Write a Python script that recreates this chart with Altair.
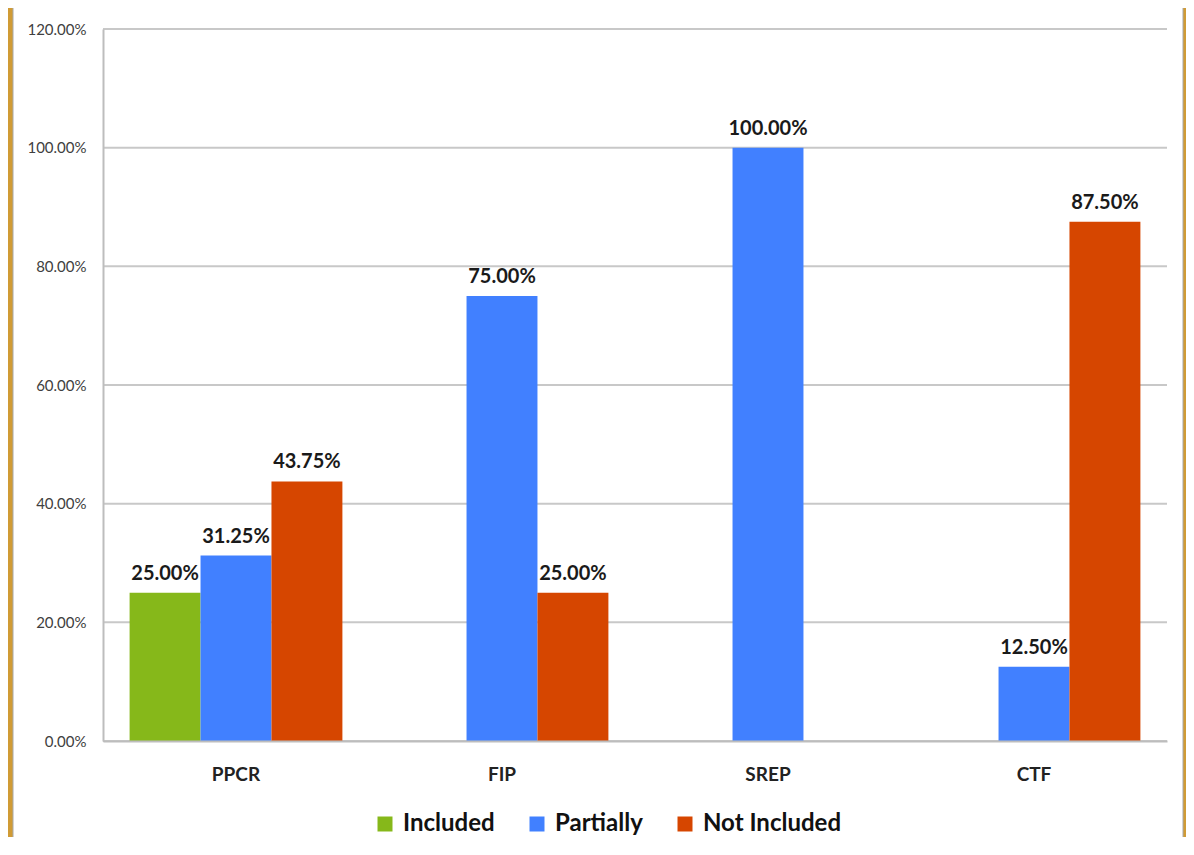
import altair as alt
import pandas as pd

programs = ["PPCR", "FIP", "SREP", "CTF"]
series = ["Included", "Partially", "Not Included"]
included = [25.00, 0.0, 0.0, 0.0]
partially = [31.25, 75.00, 100.00, 12.50]
not_included = [43.75, 25.00, 0.0, 87.50]
y_ticks = [0, 20, 40, 60, 80, 100, 120]
colors = ["#86B81A", "#4180FF", "#D64600"]

rows = []
for i, p in enumerate(programs):
    for s, vals in zip(series, [included, partially, not_included]):
        rows.append({"program": p, "series": s, "value": vals[i] / 100.0})
df = pd.DataFrame(rows)
grid_df = pd.DataFrame({"value": [v / 100.0 for v in y_ticks]})

FONT = "Lato"

bg = alt.Chart(pd.DataFrame({"a": [0]})).mark_rect(color="white", stroke="#A8A8A8", strokeWidth=1).encode(
    x=alt.value(-90), x2=alt.value(1080), y=alt.value(-40), y2=alt.value(900)
)

yscale = alt.Scale(domain=[0, 1.2], nice=False)

grid = alt.Chart(grid_df).mark_rule(color="#C8C8C8", strokeWidth=2).encode(
    y=alt.Y("value:Q", scale=yscale),
    x=alt.value(0), x2=alt.value(1064),
)

xenc = alt.X("program:N", sort=programs, title=None,
             scale=alt.Scale(paddingInner=0.2, paddingOuter=0.1),
             axis=alt.Axis(labelAngle=0, labelFont=FONT, labelFontSize=19, labelFontWeight="bold",
                           labelColor="#222222", labelPadding=24, ticks=False, zindex=1,
                           domainColor="#BDBDBD", domainWidth=2, grid=False))
yenc = alt.Y("value:Q", title=None, scale=yscale,
             axis=alt.Axis(values=[v / 100 for v in y_ticks], format=".2%", labelFont=FONT,
                           labelFontSize=15, labelColor="#404040", labelPadding=17, ticks=False,
                           zindex=1, grid=False, domainColor="#BDBDBD", domainWidth=2))

bars = alt.Chart(df).mark_bar().encode(
    x=xenc,
    xOffset=alt.XOffset("series:N", sort=series, scale=alt.Scale(paddingInner=0, paddingOuter=0)),
    y=yenc,
    color=alt.Color("series:N", sort=series, scale=alt.Scale(domain=series, range=colors),
                    legend=alt.Legend(title=None, orient="none", legendX=270, legendY=783,
                                      direction="horizontal", symbolType="square", symbolSize=225,
                                      symbolStrokeWidth=0, labelFont=FONT, labelFontSize=24,
                                      labelFontWeight="bold", labelColor="#111111", labelOffset=6,
                                      columnPadding=30, padding=0)),
)

labels = alt.Chart(df).transform_filter("datum.value > 0").mark_text(
    font=FONT, fontSize=20, fontWeight="bold", color="#1a1a1a", baseline="alphabetic", dy=-13
).encode(
    x=alt.X("program:N", sort=programs),
    xOffset=alt.XOffset("series:N", sort=series),
    y="value:Q",
    text=alt.Text("value:Q", format=".2%"),
)

chart = alt.layer(bg, grid, bars, labels).properties(
    width=1064, height=712,
    autosize=alt.AutoSizeParams(type="none"),
    padding={"left": 95, "top": 21, "right": 19, "bottom": 96},
    background="#D09B35",
).configure_view(stroke=None)

chart.save("out.html", embed_options={"renderer": "svg", "actions": False})
